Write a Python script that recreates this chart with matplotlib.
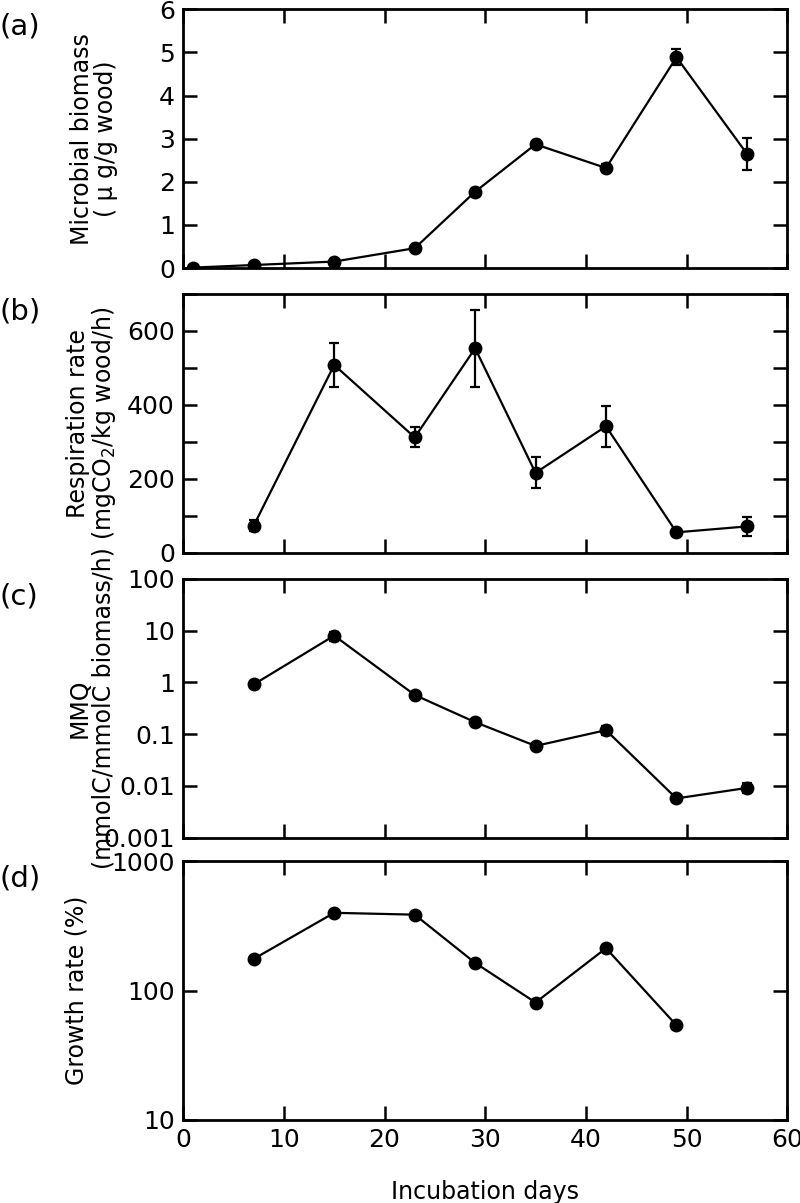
import matplotlib
matplotlib.use("Agg")
import matplotlib.pyplot as plt
import numpy as np

plt.rcParams['font.family'] = ['DejaVu Sans', 'Noto Sans CJK JP']

# ---- data ----
days_a = [1, 7, 15, 23, 29, 35, 42, 49, 56]
biomass = [0.01, 0.07, 0.15, 0.46, 1.77, 2.87, 2.32, 4.89, 2.65]
biomass_err = [0.01, 0.02, 0.03, 0.04, 0.06, 0.06, 0.10, 0.19, 0.37]

days_b = [7, 15, 23, 29, 35, 42, 49, 56]
resp = [73, 508, 312, 553, 216, 342, 55, 71]
resp_err = [15, 60, 27, 105, 42, 55, 8, 25]

days_c = [7, 15, 23, 29, 35, 42, 49, 56]
mmq = [0.91, 8.0, 0.57, 0.17, 0.059, 0.119, 0.0057, 0.0091]
mmq_err = [0.08, 1.6, 0.05, 0.02, 0.005, 0.025, 0.0006, 0.002]

days_d = [7, 15, 23, 29, 35, 42, 49]
growth = [176, 400, 387, 164, 81, 213, 54]

panel_tags = ['(a)', '(b)', '(c)', '(d)']

fig = plt.figure(figsize=(8, 12.03), dpi=100)
left, width, h = 0.229, 0.755, 0.215
bottoms = [0.7772, 0.5406, 0.3038, 0.0690]
axes = [fig.add_axes([left, b, width, h]) for b in bottoms]

style = dict(fmt='-o', color='black', lw=1.6, ms=9, capsize=3.8,
             elinewidth=1.6, capthick=1.6)
lab_fs = 17

ax = axes[0]
ax.errorbar(days_a, biomass, yerr=biomass_err, **style)
ax.set_ylim(0, 6)
ax.set_yticks(np.arange(0, 7, 1))
ax.set_ylabel('Microbial biomass\n( μ g/g wood)', fontsize=lab_fs, linespacing=1.0)

ax = axes[1]
ax.errorbar(days_b, resp, yerr=resp_err, **style)
ax.set_ylim(0, 700)
ax.set_yticks(np.arange(0, 701, 100))
ax.set_yticklabels(['0', '', '200', '', '400', '', '600', ''])
ax.set_ylabel('Respiration rate\n(mgCO$_2$/kg wood/h)', fontsize=lab_fs, linespacing=1.0)

ax = axes[2]
ax.errorbar(days_c, mmq, yerr=mmq_err, **style)
ax.set_yscale('log')
ax.set_ylim(0.001, 100)
ax.set_yticks([0.001, 0.01, 0.1, 1, 10, 100])
ax.set_yticklabels(['0.001', '0.01', '0.1', '1', '10', '100'])
ax.set_ylabel('MMQ\n(mmolC/mmolC biomass/h)', fontsize=lab_fs, linespacing=1.0)

ax = axes[3]
ax.plot(days_d, growth, '-o', color='black', lw=1.6, ms=9)
ax.set_yscale('log')
ax.set_ylim(10, 1000)
ax.set_yticks([10, 100, 1000])
ax.set_yticklabels(['10', '100', '1000'])
ax.set_ylabel('Growth rate (%)', fontsize=lab_fs)
ax.set_xlabel('Incubation days', fontsize=17, labelpad=20)

label_x = [-0.108, -0.108, -0.112, -0.157]
for i, ax in enumerate(axes):
    ax.set_xlim(0, 60)
    ax.set_xticks(np.arange(0, 61, 10))
    ax.yaxis.set_minor_locator(matplotlib.ticker.NullLocator())
    ax.tick_params(axis='both', which='major', direction='in', length=10,
                   width=1.8, labelsize=18, top=True, right=True, pad=6)
    for s in ax.spines.values():
        s.set_linewidth(2)
    if i < 3:
        ax.tick_params(labelbottom=False)
    ax.yaxis.set_label_coords(label_x[i], 0.5)
    fig.text(0.0, bottoms[i] + h - 0.003, panel_tags[i], fontsize=21,
             va='top', ha='left')

fig.savefig('out.png', dpi=100)
